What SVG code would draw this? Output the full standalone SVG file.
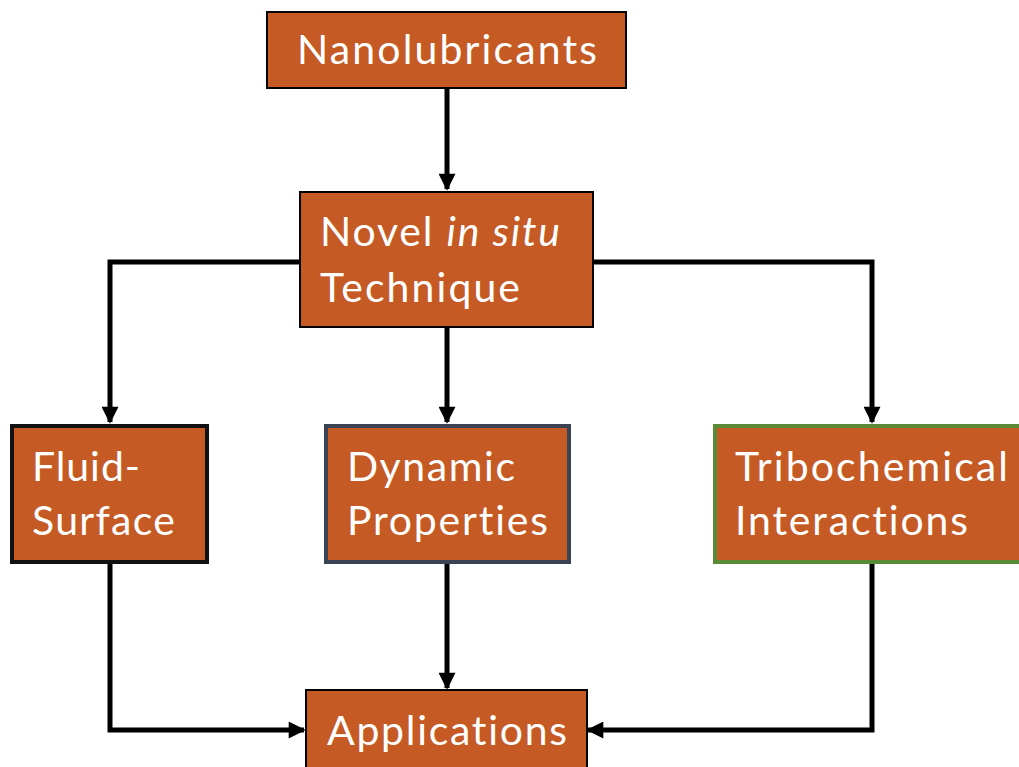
<svg xmlns="http://www.w3.org/2000/svg" width="1019" height="767" viewBox="0 0 1019 767">
<style>
.box{fill:#c55a24}
.t{font-family:Lato,"Open Sans","Liberation Sans",sans-serif;font-size:41px;fill:#ffffff;font-variant-ligatures:none;font-feature-settings:"liga" 0,"dlig" 0}
.c{fill:none;stroke:#000;stroke-width:5}
</style>
<defs>
<marker id="ah" viewBox="0 0 10 10" refX="9" refY="5" markerWidth="3.6" markerHeight="3.4" orient="auto" markerUnits="strokeWidth">
<path d="M0,0 L10,5 L0,10 z" fill="#000"/>
</marker>
</defs>
<rect width="1019" height="767" fill="#fff"/>
<g id="connectors">
<path class="c" d="M447,88 V189" marker-end="url(#ah)"/>
<path class="c" d="M299,262 H110 V422" marker-end="url(#ah)"/>
<path class="c" d="M447,327 V422" marker-end="url(#ah)"/>
<path class="c" d="M593,262 H872 V422" marker-end="url(#ah)"/>
<path class="c" d="M110,563 V730 H304" marker-end="url(#ah)"/>
<path class="c" d="M447,563 V688" marker-end="url(#ah)"/>
<path class="c" d="M872,563 V730 H588" marker-end="url(#ah)"/>
</g>
<g id="nanolubricants">
<rect class="box" x="267" y="12" width="359" height="76" stroke="#000" stroke-width="2"/>
<text class="t" x="297" y="64" textLength="300">Nanolubricants</text>
</g>
<g id="novel">
<rect class="box" x="300" y="192" width="293" height="135" stroke="#000" stroke-width="2"/>
<text class="t" x="320" y="246" textLength="240">Novel <tspan font-style="italic">in situ</tspan></text>
<text class="t" x="320" y="302" textLength="200">Technique</text>
</g>
<g id="fluid">
<rect class="box" x="12" y="426" width="195" height="136" stroke="#111" stroke-width="4"/>
<text class="t" x="32" y="481" textLength="108">Fluid-</text>
<text class="t" x="32" y="535" textLength="143">Surface</text>
</g>
<g id="dynamic">
<rect class="box" x="326" y="426" width="243" height="136" stroke="#3a4354" stroke-width="4"/>
<text class="t" x="347" y="481" textLength="168">Dynamic</text>
<text class="t" x="347" y="535" textLength="201">Properties</text>
</g>
<g id="tribo">
<rect class="box" x="715" y="426" width="310" height="136" stroke="#5a8a35" stroke-width="4"/>
<text class="t" x="735" y="481" textLength="273">Tribochemical</text>
<text class="t" x="735" y="535" textLength="233">Interactions</text>
</g>
<g id="applications">
<rect class="box" x="306" y="690" width="281" height="82" stroke="#000" stroke-width="2"/>
<text class="t" x="327" y="745" textLength="240">Applications</text>
</g>
</svg>
